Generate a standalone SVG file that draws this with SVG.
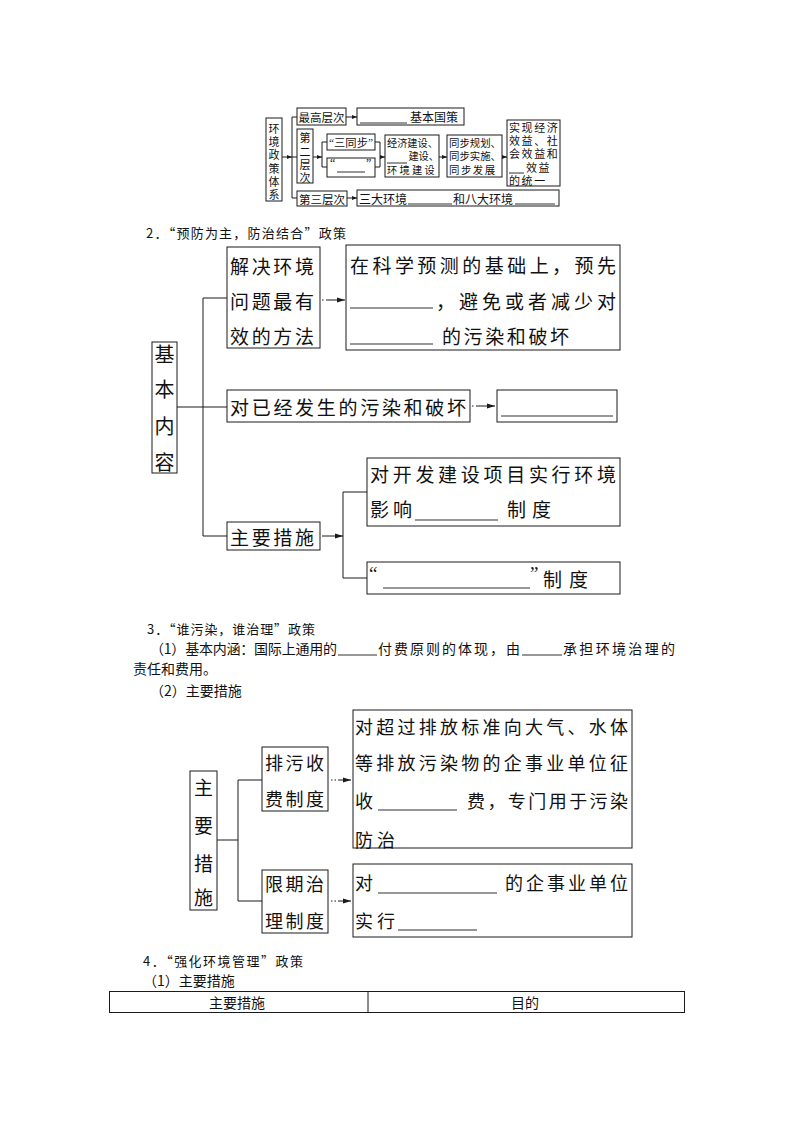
<svg xmlns="http://www.w3.org/2000/svg" width="794" height="1123" viewBox="0 0 794 1123">
<style>
.bx{fill:none;stroke:#1a1a1a;stroke-width:1}
.ln{fill:none;stroke:#1a1a1a;stroke-width:1}
.ul{fill:none;stroke:#1a1a1a;stroke-width:0.9}
.t{font-family:"Noto Sans CJK SC","Noto Sans",sans-serif;fill:#111;dominant-baseline:central}
.q{font-family:"Liberation Serif","Noto Sans CJK SC",serif;fill:#111;dominant-baseline:central}
.f11{font-size:11px}.f12{font-size:12px}.f13{font-size:13px}.f14{font-size:14px}.f18{font-size:18px}.f19{font-size:19px}.f20{font-size:20px}
.m{text-anchor:middle}
</style>
<defs>
<marker id="ah" markerWidth="8" markerHeight="6" refX="8" refY="3" orient="auto" markerUnits="userSpaceOnUse"><path d="M0,0.5 L8,3 L0,5.5 z" fill="#1a1a1a"/></marker>
<marker id="as" markerWidth="5" markerHeight="4" refX="5" refY="2" orient="auto" markerUnits="userSpaceOnUse"><path d="M0,0 L5,2 L0,4 z" fill="#1a1a1a"/></marker>
</defs>

<!-- ========== Top chart ========== -->
<g id="n_top_root">
<rect class="bx" x="266" y="118" width="16" height="83"/>
<text class="t f11 m" x="274" y="128"><tspan x="274" y="128">环</tspan><tspan x="274" y="141.2">境</tspan><tspan x="274" y="154.4">政</tspan><tspan x="274" y="167.6">策</tspan><tspan x="274" y="180.8">体</tspan><tspan x="274" y="194">系</tspan></text>
</g>
<g id="n_top_l1">
<rect class="bx" x="297" y="108" width="49" height="17"/>
<text class="t f11 m" x="321.5" y="116.5" textLength="46" lengthAdjust="spacingAndGlyphs">最高层次</text>
</g>
<g id="n_top_l1a">
<rect class="bx" x="357" y="108" width="107" height="17"/>
<line class="ul" x1="360" y1="123" x2="407" y2="123"/>
<text class="t f12" x="410" y="116.5">基本国策</text>
</g>
<g id="n_top_l2">
<rect class="bx" x="297" y="129" width="16" height="54"/>
<text class="t f11 m" x="305" y="137"><tspan x="305" y="137">第</tspan><tspan x="305" y="150.5">二</tspan><tspan x="305" y="164">层</tspan><tspan x="305" y="177">次</tspan></text>
</g>
<g id="n_top_3tb">
<rect class="bx" x="327" y="134" width="48" height="16"/>
<text class="t f11" x="329" y="142" textLength="44" lengthAdjust="spacingAndGlyphs"><tspan class="q">“</tspan>三同步<tspan class="q">”</tspan></text>
</g>
<g id="n_top_blank">
<rect class="bx" x="327" y="158" width="48" height="19"/>
<text class="q f12" x="330" y="163">“<tspan x="366" y="163">”</tspan></text>
<line class="ul" x1="337" y1="172" x2="365" y2="172"/>
</g>
<g id="n_top_build">
<rect class="bx" x="385" y="135" width="54" height="42"/>
<text class="t" style="font-size:10.2px" x="387" y="141.5"><tspan x="387" y="141.5">经济建设、</tspan><tspan x="408.4" y="155">建设、</tspan><tspan x="387" y="169" style="letter-spacing:2.3px">环境建设</tspan></text>
<line class="ul" x1="387" y1="163" x2="407" y2="163"/>
</g>
<g id="n_top_sync">
<rect class="bx" x="447" y="135" width="55" height="42"/>
<text class="t" style="font-size:10.4px" x="449" y="141.5"><tspan x="449" y="141.5">同步规划、</tspan><tspan x="449" y="155">同步实施、</tspan><tspan x="449" y="169" style="letter-spacing:1.5px">同步发展</tspan></text>
</g>
<g id="n_top_goal">
<rect class="bx" x="507" y="120" width="53" height="66"/>
<text class="t f11" style="letter-spacing:1.6px" x="509" y="127"><tspan x="509" y="127">实现经济</tspan><tspan x="509" y="140">效益、社</tspan><tspan x="509" y="153">会效益和</tspan><tspan x="526" y="166.5">效益</tspan><tspan x="509" y="179.5">的统一</tspan></text>
<line class="ul" x1="509" y1="173" x2="524" y2="173"/>
</g>
<g id="n_top_l3">
<rect class="bx" x="297" y="191" width="50" height="15"/>
<text class="t f11 m" x="322" y="198.5" textLength="46" lengthAdjust="spacingAndGlyphs">第三层次</text>
</g>
<g id="n_top_l3a">
<rect class="bx" x="357" y="190" width="202" height="16"/>
<text class="t f12" x="359" y="198" textLength="48" lengthAdjust="spacingAndGlyphs">三大环境</text>
<line class="ul" x1="408" y1="204" x2="452" y2="204"/>
<text class="t f12" x="453" y="198" textLength="60" lengthAdjust="spacingAndGlyphs">和八大环境</text>
<line class="ul" x1="515" y1="204" x2="555" y2="204"/>
</g>

<!-- ========== Section 2 ========== -->
<text class="t f13" x="146" y="232" textLength="200" lengthAdjust="spacing">2．“预防为主，防治结合”政策</text>

<g id="n_s2_root">
<rect class="bx" x="152" y="342" width="25" height="131"/>
<text class="t f20 m" x="164.5" y="353"><tspan x="164.5" y="353">基</tspan><tspan x="164.5" y="388">本</tspan><tspan x="164.5" y="425">内</tspan><tspan x="164.5" y="461">容</tspan></text>
</g>
<g id="n_s2_a">
<rect class="bx" x="227" y="247" width="93" height="101"/>
<text class="t f19" x="230" y="265" textLength="84" lengthAdjust="spacing">解决环境</text>
<text class="t f19" x="230" y="300" textLength="84" lengthAdjust="spacing">问题最有</text>
<text class="t f19" x="230" y="335" textLength="84" lengthAdjust="spacing">效的方法</text>
</g>
<g id="n_s2_a2">
<rect class="bx" x="346" y="245" width="274" height="105"/>
<text class="t f19" x="350" y="264" textLength="266" lengthAdjust="spacing">在科学预测的基础上，预先</text>
<line class="ul" x1="350" y1="308" x2="433" y2="308"/>
<text class="t f19" x="436" y="300" textLength="180" lengthAdjust="spacing">，避免或者减少对</text>
<line class="ul" x1="350" y1="344" x2="433" y2="344"/>
<text class="t f19" x="442" y="335" textLength="127" lengthAdjust="spacing">的污染和破坏</text>
</g>
<g id="n_s2_b">
<rect class="bx" x="227" y="390" width="243" height="32"/>
<text class="t f19" x="230" y="406" textLength="236" lengthAdjust="spacing">对已经发生的污染和破坏</text>
</g>
<g id="n_s2_b2">
<rect class="bx" x="497" y="390" width="120" height="32"/>
<line class="ul" x1="501" y1="416" x2="613" y2="416"/>
</g>
<g id="n_s2_c">
<rect class="bx" x="227" y="522" width="93" height="28"/>
<text class="t f19" x="230" y="536" textLength="84" lengthAdjust="spacing">主要措施</text>
</g>
<g id="n_s2_c1">
<rect class="bx" x="367" y="458" width="253" height="68"/>
<text class="t f19" x="370" y="473" textLength="246" lengthAdjust="spacing">对开发建设项目实行环境</text>
<text class="t f19" x="370" y="508" textLength="42" lengthAdjust="spacing">影响</text>
<line class="ul" x1="415" y1="520" x2="498" y2="520"/>
<text class="t f19" x="507" y="508" textLength="44" lengthAdjust="spacing">制度</text>
</g>
<g id="n_s2_c2">
<rect class="bx" x="367" y="562" width="253" height="32"/>
<text class="q f19" x="369" y="573">“</text>
<line class="ul" x1="383" y1="588" x2="530" y2="588"/>
<text class="q f19" x="530" y="573">”</text>
<text class="t f19" x="543" y="578" textLength="45" lengthAdjust="spacing">制度</text>
</g>

<!-- ========== Section 3 ========== -->
<text class="t f13" x="147" y="628" textLength="168" lengthAdjust="spacing">3．“谁污染，谁治理”政策</text>
<g id="s3_text">
<text class="t f14" x="150" y="648" textLength="187" lengthAdjust="spacing">（1）基本内涵：国际上通用的</text>
<line class="ul" x1="338" y1="655" x2="377" y2="655"/>
<text class="t f14" x="378" y="648" textLength="142" lengthAdjust="spacing">付费原则的体现，由</text>
<line class="ul" x1="522" y1="655" x2="562" y2="655"/>
<text class="t f14" x="563" y="648" textLength="112" lengthAdjust="spacing">承担环境治理的</text>
<text class="t f14" x="133" y="668">责任和费用。</text>
<text class="t f14" x="150" y="690">（2）主要措施</text>
</g>

<g id="n_s3_root">
<rect class="bx" x="190" y="771" width="27" height="139"/>
<text class="t f19 m" x="203.5" y="786"><tspan x="203.5" y="786">主</tspan><tspan x="203.5" y="824">要</tspan><tspan x="203.5" y="862">措</tspan><tspan x="203.5" y="896">施</tspan></text>
</g>
<g id="n_s3_a">
<rect class="bx" x="262" y="747" width="66" height="64"/>
<text class="t f18" x="265" y="762" textLength="59" lengthAdjust="spacing">排污收</text>
<text class="t f18" x="265" y="798" textLength="59" lengthAdjust="spacing">费制度</text>
</g>
<g id="n_s3_a2">
<rect class="bx" x="353" y="710" width="279" height="138"/>
<text class="t f18" x="355" y="726" textLength="273" lengthAdjust="spacing">对超过排放标准向大气、水体</text>
<text class="t f18" x="355" y="762" textLength="273" lengthAdjust="spacing">等排放污染物的企事业单位征</text>
<text class="t f18" x="355" y="800">收</text>
<line class="ul" x1="378" y1="810" x2="457" y2="810"/>
<text class="t f18" x="467" y="800" textLength="161" lengthAdjust="spacing">费，专门用于污染</text>
<text class="t f18" x="355" y="839" textLength="40" lengthAdjust="spacing">防治</text>
</g>
<g id="n_s3_b">
<rect class="bx" x="262" y="870" width="66" height="63"/>
<text class="t f18" x="265" y="883" textLength="59" lengthAdjust="spacing">限期治</text>
<text class="t f18" x="265" y="920" textLength="59" lengthAdjust="spacing">理制度</text>
</g>
<g id="n_s3_b2">
<rect class="bx" x="353" y="864" width="279" height="73"/>
<text class="t f18" x="355" y="882">对</text>
<line class="ul" x1="378" y1="893" x2="497" y2="893"/>
<text class="t f18" x="505" y="882" textLength="123" lengthAdjust="spacing">的企事业单位</text>
<text class="t f18" x="355" y="920" textLength="40" lengthAdjust="spacing">实行</text>
<line class="ul" x1="398" y1="930" x2="477" y2="930"/>
</g>

<!-- ========== Section 4 ========== -->
<text class="t f13" x="143" y="960" textLength="160" lengthAdjust="spacing">4．“强化环境管理”政策</text>
<text class="t f14" x="143" y="980">（1）主要措施</text>
<g id="n_table">
<rect class="bx" x="109.5" y="991.5" width="575" height="21"/>
<line class="ln" x1="368" y1="991.5" x2="368" y2="1012.5"/>
<text class="t f14 m" x="237" y="1002">主要措施</text>
<text class="t f14 m" x="525" y="1002">目的</text>
</g>

<!-- ========== Connectors ========== -->
<g id="connectors">
<line class="ln" x1="282" y1="157" x2="292" y2="157" marker-end="url(#as)"/>
<line class="ln" x1="292" y1="117" x2="292" y2="198"/>
<line class="ln" x1="292" y1="117" x2="297" y2="117"/>
<line class="ln" x1="292" y1="157" x2="297" y2="157"/>
<line class="ln" x1="292" y1="198" x2="297" y2="198"/>
<line class="ln" x1="346" y1="117" x2="357" y2="117" marker-end="url(#as)"/>
<line class="ln" x1="313" y1="157" x2="322" y2="157" marker-end="url(#as)"/>
<line class="ln" x1="322" y1="142" x2="322" y2="167"/>
<line class="ln" x1="322" y1="142" x2="327" y2="142"/>
<line class="ln" x1="322" y1="167" x2="327" y2="167"/>
<polyline class="ln" points="375,142 380,142 380,167 375,167"/>
<line class="ln" x1="380" y1="157" x2="385" y2="157" marker-end="url(#as)"/>
<line class="ln" x1="439" y1="157" x2="447" y2="157" marker-end="url(#as)"/>
<line class="ln" x1="502" y1="157" x2="507" y2="157" marker-end="url(#as)"/>
<line class="ln" x1="347" y1="198" x2="357" y2="198" marker-end="url(#as)"/>
<line class="ln" x1="177" y1="407" x2="227" y2="407"/>
<line class="ln" x1="203" y1="298" x2="203" y2="536"/>
<line class="ln" x1="203" y1="298" x2="227" y2="298"/>
<line class="ln" x1="203" y1="536" x2="227" y2="536"/>
<line class="ln" x1="322" y1="300" x2="345" y2="300" stroke-dasharray="1.5,2.5,100" marker-end="url(#ah)"/>
<line class="ln" x1="472" y1="406" x2="495" y2="406" stroke-dasharray="1.5,2.5,100" marker-end="url(#ah)"/>
<line class="ln" x1="322" y1="536" x2="343" y2="536" marker-end="url(#ah)"/>
<line class="ln" x1="343" y1="492" x2="343" y2="578"/>
<line class="ln" x1="343" y1="492" x2="367" y2="492"/>
<line class="ln" x1="343" y1="578" x2="367" y2="578"/>
<line class="ln" x1="217" y1="840" x2="238" y2="840"/>
<line class="ln" x1="238" y1="780" x2="238" y2="901"/>
<line class="ln" x1="238" y1="780" x2="262" y2="780"/>
<line class="ln" x1="238" y1="901" x2="262" y2="901"/>
<line class="ln" x1="331" y1="780" x2="351" y2="780" stroke-dasharray="1.5,2,1.5,2,100" marker-end="url(#ah)"/>
<line class="ln" x1="331" y1="901" x2="351" y2="901" stroke-dasharray="1.5,2,1.5,2,100" marker-end="url(#ah)"/>
</g>
</svg>
